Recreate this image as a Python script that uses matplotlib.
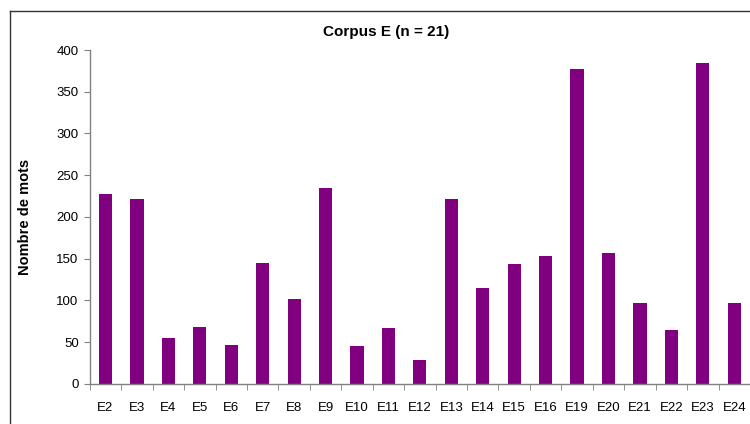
import matplotlib
matplotlib.use("Agg")
import matplotlib.pyplot as plt
from matplotlib.lines import Line2D

# ------------------------------------------------------------------ data
categories = ["E2", "E3", "E4", "E5", "E6", "E7", "E8", "E9", "E10", "E11", "E12",
              "E13", "E14", "E15", "E16", "E19", "E20", "E21", "E22", "E23", "E24"]
nb_mots = [227, 222, 55, 68, 47, 145, 101, 235, 45, 67, 29,
           222, 115, 143, 153, 377, 157, 97, 64, 384, 97]
yticks = [0, 50, 100, 150, 200, 250, 300, 350, 400]

plt.rcParams["font.family"] = ["Liberation Sans", "DejaVu Sans"]

fig = plt.figure(figsize=(7.5, 4.24), dpi=100)
ax = fig.add_axes([0.1197, 0.095, 0.8803, 0.787])

x = range(len(categories))
ax.bar(x, nb_mots, width=0.42, color="#800080")

ax.set_xlim(-0.5, len(categories) - 0.5)
ax.set_ylim(0, 400)
ax.set_yticks(yticks)
ax.set_yticklabels([str(v) for v in yticks], fontsize=9.5)
ax.set_xticks(list(x))
ax.set_xticklabels(categories, fontsize=9.5)
# ticks sit at category boundaries, labels centred under bars
ax.set_xticks([i - 0.5 for i in range(len(categories) + 1)], minor=True)
ax.tick_params(axis="x", which="major", length=0, pad=13)
ax.tick_params(axis="x", which="minor", length=4, color="#808080", direction="out")
ax.tick_params(axis="y", length=4, color="#808080", direction="out", pad=4)

for s in ("top", "right"):
    ax.spines[s].set_visible(False)
for s in ("left", "bottom"):
    ax.spines[s].set_color("#808080")
    ax.spines[s].set_linewidth(1)

ax.set_ylabel("Nombre de mots", fontsize=10.5, fontweight="bold", va="center")
ax.yaxis.set_label_coords(-0.098, 0.5)
fig.text(0.515, 0.925, "Corpus E (n = 21)", ha="center", va="center",
         fontsize=11, fontweight="bold")

# outer chart frame (cropped on the right and bottom)
fig.add_artist(Line2D([10 / 750, 10 / 750], [0, 1 - 11 / 424],
                      transform=fig.transFigure, color="#333333", lw=1))
fig.add_artist(Line2D([10 / 750, 1], [1 - 11 / 424, 1 - 11 / 424],
                      transform=fig.transFigure, color="#333333", lw=1))

fig.savefig("out.png", dpi=100)
